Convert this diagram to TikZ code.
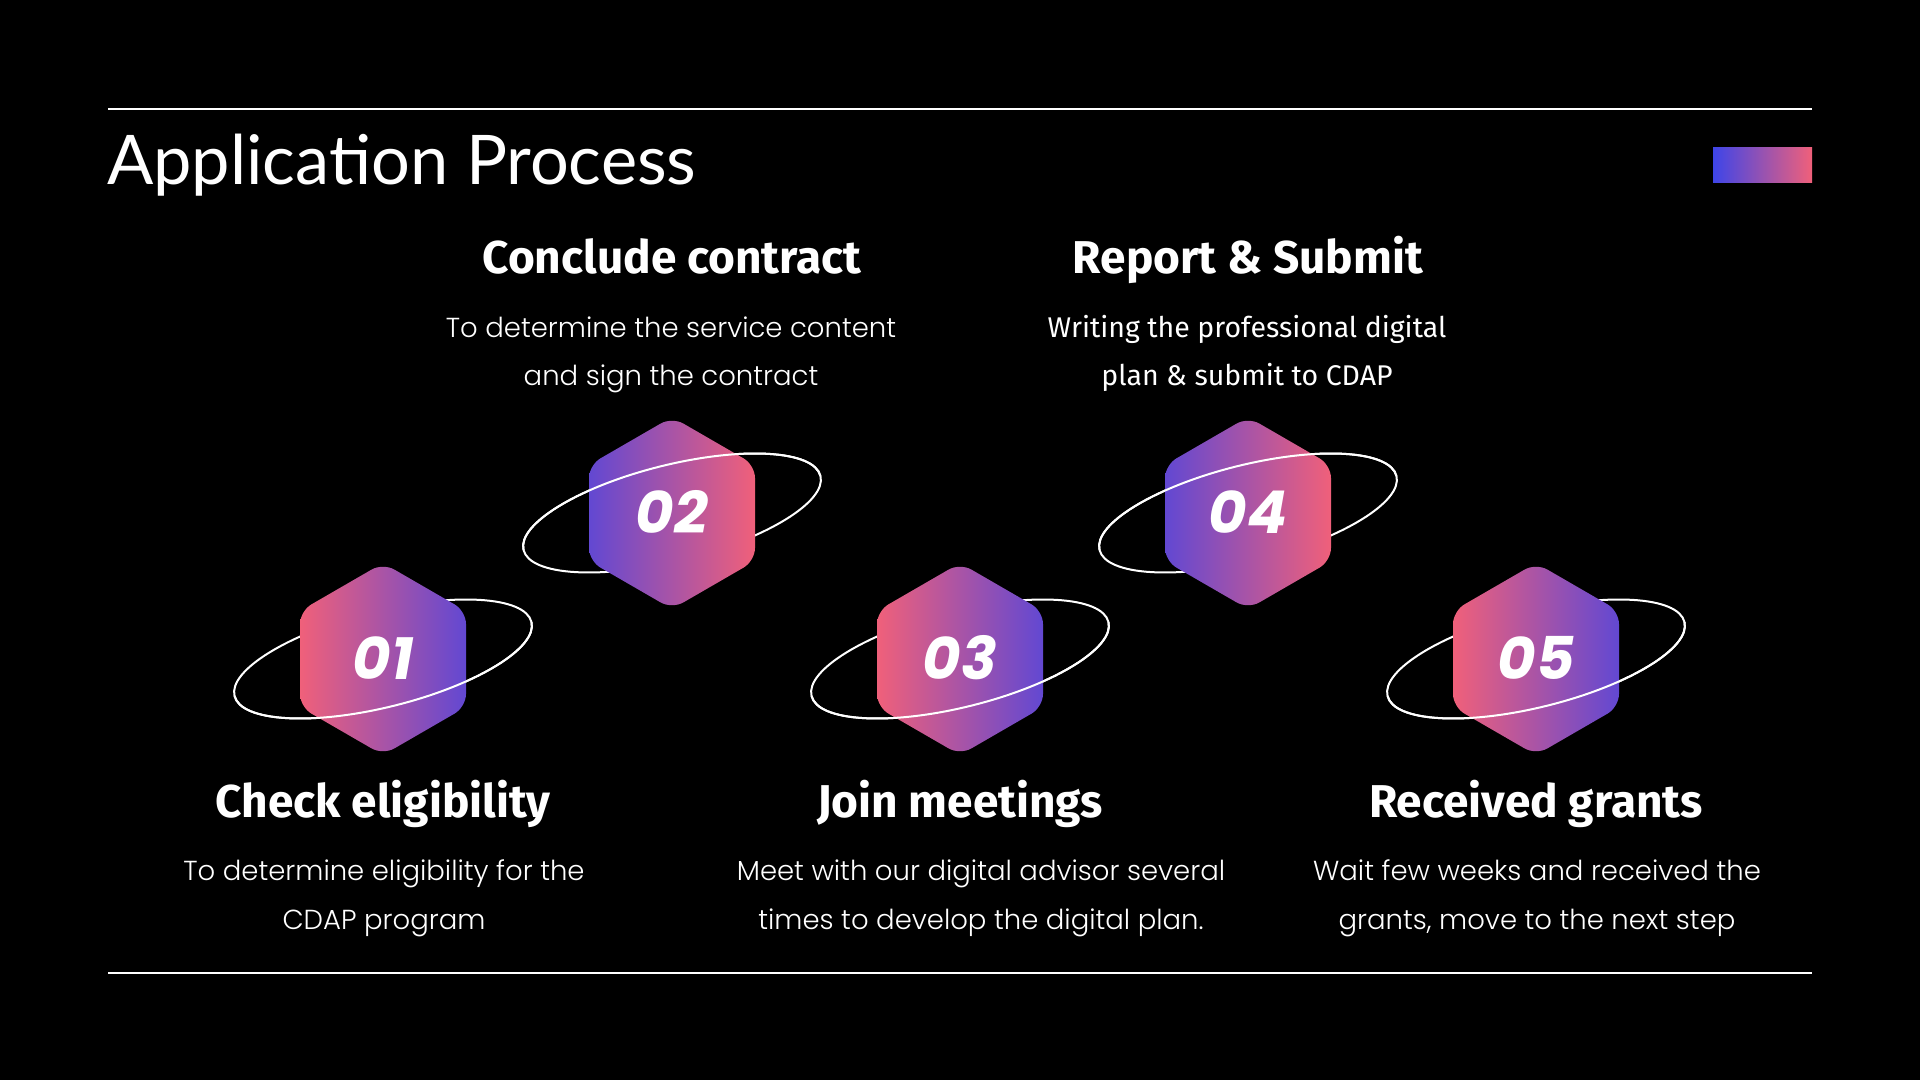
\documentclass[tikz,border=0pt]{standalone}
\usepackage{fontspec}
\setmainfont{Open Sans}
\newfontfamily\titlefont{Lato}
\newfontfamily\headfont{Fira Sans}
\newfontfamily\numfont{Poppins}
\IfFontExistsTF{Poppins Light}{\newfontfamily\bodyfont{Poppins Light}}{\newfontfamily\bodyfont{Poppins}}
\newfontfamily\bodyalt{Fira Sans}
\definecolor{pinkc}{RGB}{240,96,122}
\definecolor{bluec}{RGB}{98,72,210}
\definecolor{barblue}{RGB}{62,69,232}
\tikzset{
  ring/.style={draw=white, line width=2pt},
  rule/.style={draw=white, line width=2pt},
  num/.style={text=white, inner sep=0pt, font=\numfont\bfseries\itshape\fontsize{59}{59}\selectfont},
  head/.style={text=white, inner sep=0pt, anchor=base, font=\headfont\bfseries\fontsize{46}{46}\selectfont},
  body/.style={text=white, inner sep=0pt, anchor=base, font=\bodyfont\fontsize{27.5}{27.5}\selectfont},
  bodyb/.style={text=white, inner sep=0pt, anchor=base, font=\bodyalt\fontsize{28.5}{28.5}\selectfont},
}
% #1 x, #2 y, #3 left colour, #4 right colour, #5 start angle of front arc, #6 label
\newcommand\ringhex[6]{%
  \begin{scope}[shift={(#1,#2)}]
    \draw[ring, rotate=14] (0,0) ellipse[x radius=153pt, y radius=48pt];
    \shade[left color=#3, right color=#4, rounded corners=13pt]
      (83,0) -- (83,48) -- (0,96) -- (-83,48) -- (-83,-48) -- (0,-96) -- (83,-48) -- cycle;
    \draw[ring, rotate=14] (#5:153pt and 48pt) arc[start angle=#5, delta angle=180, x radius=153pt, y radius=48pt];
    \node[num] (n#6) at (0,1) {#6};
  \end{scope}}
\begin{document}
\begin{tikzpicture}[x=1pt,y=1pt]
\fill[black] (0,0) rectangle (1920,1080);
\useasboundingbox (0,0) rectangle (1920,1080);
% rules
\coordinate (tl) at (108,971); \coordinate (tr) at (1812,971);
\coordinate (bl) at (108,107); \coordinate (br) at (1812,107);
\draw[rule] (tl) -- (tr);
\draw[rule] (bl) -- (br);
% title
\node[text=white, inner sep=0pt, anchor=base west, font=\titlefont\fontsize{68.5}{68.5}\selectfont] (title) at (107,895) {Application Process};
\shade[left color=barblue, right color=pinkc] (1713,897) rectangle (1812,932);
% hexagons
\ringhex{383}{421}{pinkc}{bluec}{180}{01}
\ringhex{672}{567}{bluec}{pinkc}{0}{02}
\ringhex{960}{421}{pinkc}{bluec}{180}{03}
\ringhex{1248}{567}{bluec}{pinkc}{0}{04}
\ringhex{1536}{421}{pinkc}{bluec}{180}{05}
% top row texts
\node[head] (h2) at (672,806) {Conclude contract};
\node[body] (b2a) at (671,742) {To determine the service content};
\node[body] (b2b) at (671,694) {and sign the contract};
\node[head] (h4) at (1248,806) {Report \& Submit};
\node[bodyb] (b4a) at (1247,742) {Writing the professional digital};
\node[bodyb] (b4b) at (1247,694) {plan \& submit to CDAP};
% bottom row texts
\node[head] (h1) at (383,262) {Check eligibility};
\node[body] (b1a) at (384,200) {To determine eligibility for the};
\node[body] (b1b) at (384,151) {CDAP program};
\node[head] (h3) at (960,262) {Join meetings};
\node[body] (b3a) at (981,200) {Meet with our digital advisor several};
\node[body] (b3b) at (981,151) {times to develop the digital plan.};
\node[head] (h5) at (1536,262) {Received grants};
\node[body] (b5a) at (1537,200) {Wait few weeks and received the};
\node[body] (b5b) at (1537,151) {grants, move to the next step};
\end{tikzpicture}
\end{document}
